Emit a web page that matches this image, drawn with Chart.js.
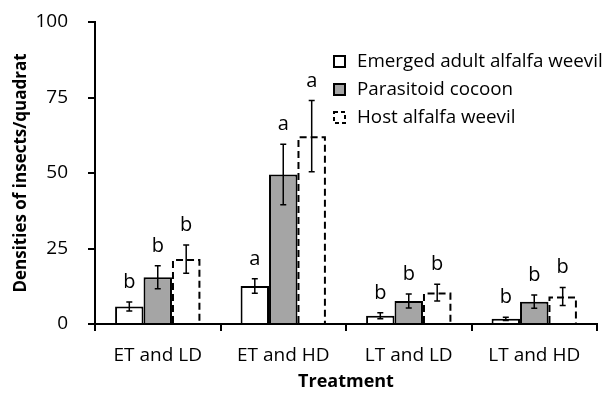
<!DOCTYPE html>
<html>
<head>
<meta charset="utf-8">
<script src="https://cdn.jsdelivr.net/npm/chart.js@4.4.0/dist/chart.umd.min.js"></script>
<style>
    html, body { margin: 0; padding: 0; background: #fff; }
    #wrap { width: 606px; height: 394px; }
</style>
</head>
<body>
<div id="wrap"><canvas id="bar_chart"></canvas></div>
<script>
const treatments = ['ET and LD', 'ET and HD', 'LT and LD', 'LT and HD'];
const seriesNames = ['Emerged adult alfalfa weevil', 'Parasitoid cocoon', 'Host alfalfa weevil'];

const emerged = [5.8, 12.6, 2.7, 1.7];
const emergedErr = [1.5, 2.4, 1.0, 0.5];
const cocoon = [15.5, 49.5, 7.6, 7.4];
const cocoonErr = [3.8, 10.0, 2.3, 2.2];
const host = [21.5, 62.2, 10.4, 9.1];
const hostErr = [4.7, 11.8, 2.8, 3.0];

const emergedLetters = ['b', 'a', 'b', 'b'];
const cocoonLetters = ['b', 'a', 'b', 'b'];
const hostLetters = ['b', 'a', 'b', 'b'];

const yTicks = [0, 25, 50, 75, 100];

const FONT = '"Open Sans", sans-serif';
const GRAY = '#a5a5a5';

Chart.defaults.font.family = FONT;
Chart.defaults.color = '#000';

// error bars, letters and the dashed outline of the host bars
const errorBars = {
    id: 'errorBars',
    afterDatasetsDraw(chart) {
        const ctx = chart.ctx;
        const yScale = chart.scales.y;
        chart.data.datasets.forEach((ds, i) => {
            const meta = chart.getDatasetMeta(i);
            meta.data.forEach((bar, j) => {
                const p = bar.getProps(['x', 'y', 'base', 'width'], true);
                ctx.save();
                ctx.strokeStyle = '#000';
                if (ds.dashed) {
                    const l = p.x - p.width / 2 + 1;
                    const r = p.x + p.width / 2 - 1;
                    ctx.lineWidth = 2;
                    ctx.setLineDash([7, 4]);
                    ctx.beginPath();
                    ctx.moveTo(l, p.base);
                    ctx.lineTo(l, p.y + 1);
                    ctx.lineTo(r, p.y + 1);
                    ctx.lineTo(r, p.base);
                    ctx.stroke();
                    ctx.setLineDash([]);
                }
                const hi = yScale.getPixelForValue(ds.data[j] + ds.errors[j]);
                const lo = yScale.getPixelForValue(ds.data[j] - ds.errors[j]);
                ctx.lineWidth = 1.5;
                ctx.beginPath();
                ctx.moveTo(p.x, hi);
                ctx.lineTo(p.x, lo);
                ctx.moveTo(p.x - 3, hi);
                ctx.lineTo(p.x + 3, hi);
                ctx.moveTo(p.x - 3, lo);
                ctx.lineTo(p.x + 3, lo);
                ctx.stroke();
                ctx.fillStyle = '#000';
                ctx.font = '20px ' + FONT;
                ctx.textAlign = 'center';
                ctx.textBaseline = 'alphabetic';
                ctx.fillText(ds.letters[j], p.x, hi - 14);
                ctx.restore();
            });
        });
    }
};

// legend in the upper right of the plot
const boxLegend = {
    id: 'boxLegend',
    afterDraw(chart) {
        const ctx = chart.ctx;
        const rows = [61, 89, 117];
        chart.data.datasets.forEach((ds, i) => {
            const y = rows[i];
            ctx.save();
            ctx.fillStyle = ds.backgroundColor;
            ctx.fillRect(333, y - 6, 12, 12);
            ctx.strokeStyle = '#000';
            ctx.lineWidth = 2;
            if (ds.dashed) ctx.setLineDash([4, 3]);
            ctx.strokeRect(334, y - 5, 11, 11);
            ctx.setLineDash([]);
            ctx.fillStyle = '#000';
            ctx.font = '18.8px ' + FONT;
            ctx.textAlign = 'left';
            ctx.textBaseline = 'middle';
            ctx.fillText(ds.label, 357, y + 1);
            ctx.restore();
        });
    }
};

const config = {
    type: 'bar',
    data: {
        labels: treatments,
        datasets: [
            {
                label: seriesNames[0],
                data: emerged,
                errors: emergedErr,
                letters: emergedLetters,
                backgroundColor: '#fff',
                borderColor: '#000',
                borderWidth: 2
            },
            {
                label: seriesNames[1],
                data: cocoon,
                errors: cocoonErr,
                letters: cocoonLetters,
                backgroundColor: GRAY,
                borderColor: '#000',
                borderWidth: 2
            },
            {
                label: seriesNames[2],
                data: host,
                errors: hostErr,
                letters: hostLetters,
                dashed: true,
                backgroundColor: '#fff',
                borderWidth: 0
            }
        ]
    },
    options: {
        responsive: true,
        maintainAspectRatio: false,
        animation: false,
        categoryPercentage: 0.68,
        barPercentage: 1.0,
        layout: { padding: { top: 22, right: 9, left: 0, bottom: 0 } },
        plugins: {
            legend: { display: false },
            tooltip: { enabled: false }
        },
        scales: {
            x: {
                border: { color: '#000', width: 2 },
                grid: { offset: true, drawOnChartArea: false, tickLength: 7, color: '#000', lineWidth: 2 },
                ticks: { padding: 13, color: '#000', font: { size: 19 } },
                title: {
                    display: true,
                    text: 'Treatment',
                    color: '#000',
                    font: { size: 18, weight: 'bold' },
                    padding: { top: 0, bottom: 1 }
                },
                afterFit: s => { s.height = 70; }
            },
            y: {
                min: 0,
                max: 100,
                afterBuildTicks: s => { s.ticks = yTicks.map(v => ({ value: v })); },
                border: { color: '#000', width: 2 },
                grid: { drawOnChartArea: false, tickLength: 7, color: '#000', lineWidth: 2 },
                ticks: { padding: 20, color: '#000', font: { size: 19 } },
                title: {
                    display: true,
                    text: 'Densities of insects/quadrat',
                    color: '#000',
                    font: { size: 17, weight: 'bold' },
                    padding: { top: 11, bottom: 0 }
                },
                afterFit: s => {
                    s.width = 95;
                    s.paddingTop = 0;
                    s.paddingBottom = 0;
                }
            }
        }
    },
    plugins: [errorBars, boxLegend]
};

new Chart(document.getElementById('bar_chart').getContext('2d'), config);
</script>
</body>
</html>
